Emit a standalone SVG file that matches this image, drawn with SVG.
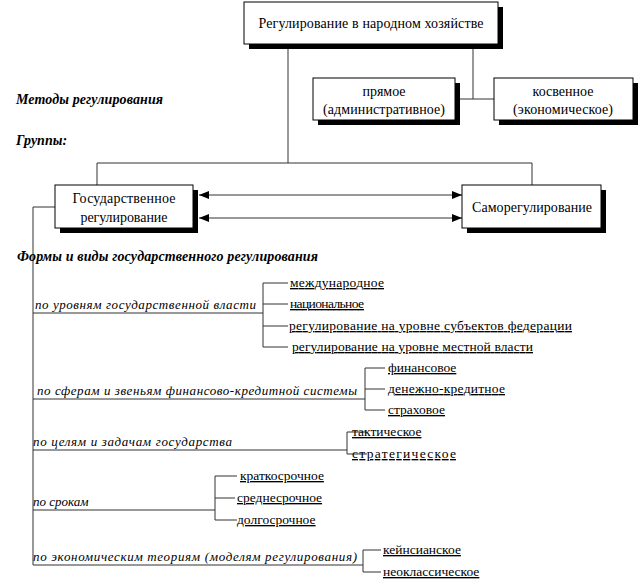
<svg xmlns="http://www.w3.org/2000/svg" width="640" height="588" viewBox="0 0 640 588">
<style>
.box{fill:#fff;stroke:#000;stroke-width:1}
.sh{fill:#000}
.ln{fill:none;stroke:#333;stroke-width:1}
.t{font-family:"Liberation Serif","DejaVu Serif",serif;fill:#000}
.bx{font-size:14px;text-anchor:middle}
.hd{font-size:14px;font-weight:bold;font-style:italic}
.lb{font-size:13px;font-style:italic}
.it{font-size:13.5px;text-decoration:underline}
</style>
<defs>
<marker id="ah" viewBox="0 0 10 8" refX="10" refY="4" markerWidth="10" markerHeight="8" markerUnits="userSpaceOnUse" orient="auto-start-reverse"><path d="M0,0L10,4L0,8Z" fill="#000"/></marker>
</defs>
<rect width="640" height="588" fill="#fff"/>

<g id="connectors" class="ln">
<path d="M288,44V163"/>
<path d="M97,185V163H532V185"/>
<path d="M473,44V99M455,99H494"/>
<path d="M199,195H462" marker-start="url(#ah)" marker-end="url(#ah)"/>
<path d="M199,218H462" marker-start="url(#ah)" marker-end="url(#ah)"/>
<path d="M55,207H33V565"/>
<path d="M33,313H263M288,283H263V347H288M263,304H288M263,326H288"/>
<path d="M33,399H365M385,368H365V410H385M365,389H385"/>
<path d="M33,450H347M367,432H347V454H367"/>
<path d="M33,510H215M237,476H215V520H237M215,498H235"/>
<path d="M33,565H363M381,550H363V572H381"/>
</g>

<g id="node-top">
<rect class="sh" x="249" y="7" width="254" height="42"/>
<rect class="box" x="244" y="2" width="254" height="42"/>
<text class="t bx" x="371" y="28" textLength="225">Регулирование в народном хозяйстве</text>
</g>

<g id="node-direct">
<rect class="sh" x="318" y="83" width="142" height="42"/>
<rect class="box" x="313" y="78" width="142" height="42"/>
<text class="t bx" x="384" y="96">прямое</text>
<text class="t bx" x="384" y="114" textLength="122">(административное)</text>
</g>

<g id="node-indirect">
<rect class="sh" x="499" y="83" width="139" height="42"/>
<rect class="box" x="494" y="78" width="139" height="42"/>
<text class="t bx" x="563" y="96">косвенное</text>
<text class="t bx" x="563" y="114" textLength="100">(экономическое)</text>
</g>

<g id="node-state">
<rect class="sh" x="60" y="190" width="138" height="43"/>
<rect class="box" x="55" y="185" width="138" height="43"/>
<text class="t bx" x="124" y="203" textLength="103">Государственное</text>
<text class="t bx" x="124" y="222" textLength="87">регулирование</text>
</g>

<g id="node-self">
<rect class="sh" x="467" y="190" width="139" height="43"/>
<rect class="box" x="462" y="185" width="139" height="43"/>
<text class="t bx" x="532" y="212" textLength="120">Саморегулирование</text>
</g>

<g id="headings">
<text class="t hd" x="16" y="104" textLength="147">Методы регулирования</text>
<text class="t hd" x="16" y="145">Группы:</text>
<text class="t hd" x="17" y="261" textLength="301">Формы и виды государственного регулирования</text>
</g>

<g id="cat-levels">
<text class="t lb" x="35" y="309" textLength="221">по уровням государственной власти</text>
<text class="t it" x="290" y="287" textLength="94">международное</text>
<text class="t it" x="290" y="308" textLength="74">национальное</text>
<text class="t it" x="289" y="330" textLength="283">регулирование на уровне субъектов федерации</text>
<text class="t it" x="292" y="351" textLength="241">регулирование на уровне местной власти</text>
</g>

<g id="cat-spheres">
<text class="t lb" x="37" y="395" textLength="320">по сферам и звеньям финансово-кредитной системы</text>
<text class="t it" x="388" y="372">финансовое</text>
<text class="t it" x="388" y="393" textLength="117">денежно-кредитное</text>
<text class="t it" x="388" y="414">страховое</text>
</g>

<g id="cat-goals">
<text class="t lb" x="33" y="446" textLength="199">по целям и задачам государства</text>
<text class="t it" x="352" y="436">тактическое</text>
<text class="t it" x="352" y="458" textLength="104">стратегическое</text>
</g>

<g id="cat-terms">
<text class="t lb" x="33" y="506">по срокам</text>
<text class="t it" x="240" y="480">краткосрочное</text>
<text class="t it" x="237" y="502">среднесрочное</text>
<text class="t it" x="237" y="524">долгосрочное</text>
</g>

<g id="cat-theories">
<text class="t lb" x="33" y="561" textLength="324">по экономическим теориям (моделям регулирования)</text>
<text class="t it" x="383" y="554">кейнсианское</text>
<text class="t it" x="383" y="576">неоклассическое</text>
</g>
</svg>
